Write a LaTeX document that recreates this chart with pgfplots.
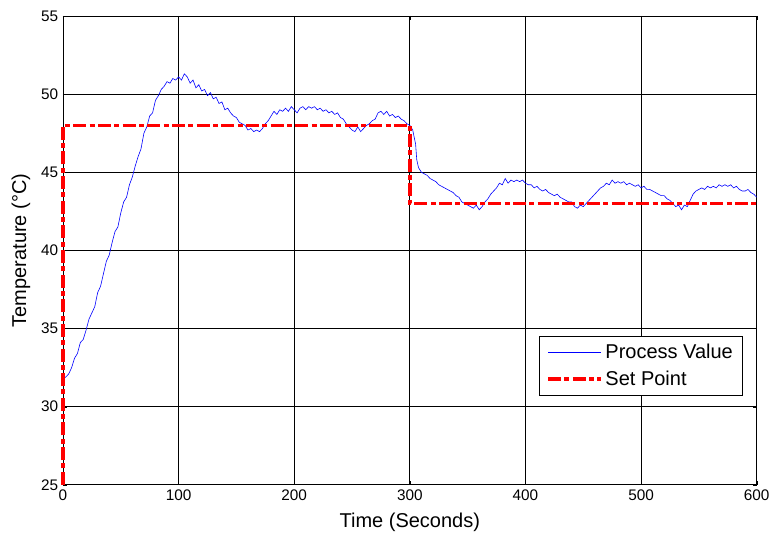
\documentclass[border=0pt]{standalone}
\usepackage{pgfplots}
\pgfplotsset{compat=1.18}
\usepackage{fontspec}
\setmainfont{Liberation Sans}

\begin{document}
\begin{tikzpicture}
\useasboundingbox (-47.25pt,-39.75pt) rectangle (532.75pt,363.75pt);
\begin{axis}[
    at={(0pt,0pt)}, anchor=south west,
    scale only axis,
    width=520.5pt,
    height=351.75pt,
    xmin=0, xmax=600,
    ymin=25, ymax=55,
    clip=false,
    xtick={0,100,...,600},
    ytick={25,30,...,55},
    grid=major,
    major grid style={black, line width=0.5pt},
    axis line style={black, line width=0.6pt},
    tick align=inside,
    major tick length=3pt,
    tick style={black},
    tick label style={font=\fontsize{11.5}{13}\selectfont},
    /pgf/number format/assume math mode=true,
    xlabel={Time (Seconds)},
    ylabel={Temperature (°C)},
    label style={font=\fontsize{15}{17}\selectfont},
    xlabel style={at={(axis description cs:0.5,0)}, anchor=center, yshift=-28pt},
    ylabel style={at={([xshift=-31.5pt]axis description cs:0,0.5)}, anchor=center},
    legend style={
        at={(rel axis cs:0.98,0.318)}, anchor=north east,
        draw=black, line width=0.5pt,
        font=\fontsize{15}{17}\selectfont,
        row sep=4.5pt, inner xsep=5pt, inner ysep=4.5pt,
        nodes={inner xsep=2.2pt, inner ysep=1.5pt},
    },
    legend cell align=left,
    legend image code/.code={\draw[#1] (0pt,0pt) -- (39.5pt,0pt);},
]
\addplot[blue, line width=0.45pt] coordinates {
(0,31.8) (2.5,31.9) (5,32.1) (7.5,32.5) (10,33.1) (12.5,33.4) (15,34.1) (17.5,34.3)
(20,34.9) (22.5,35.6) (25,36.0) (27.5,36.4) (30,37.3) (32.5,37.7) (35,38.5) (37.5,39.3)
(40,39.7) (42.5,40.5) (45,41.2) (47.5,41.5) (50,42.4) (52.5,43.1) (55,43.4) (57.5,44.2)
(60,44.7) (62.5,45.4) (65,46.0) (67.5,46.5) (70,47.5) (72.5,47.9) (75,48.6) (77.5,48.8)
(80,49.6) (82.5,49.9) (85,50.3) (87.5,50.5) (90,50.8) (92.5,50.7) (95,51.0) (97.5,50.9)
(100,51.1) (102.5,50.9) (105,51.3) (107.5,51.1) (110,50.7) (112.5,50.9) (115,50.4) (117.5,50.6)
(120,50.2) (122.5,50.3) (125,49.9) (127.5,50.1) (130,49.7) (132.5,49.8) (135,49.4) (137.5,49.5)
(140,49.0) (142.5,49.1) (145,48.8) (147.5,48.6) (150,48.5) (152.5,48.2) (155,48.1) (157.5,48.0)
(160,47.7) (162.5,47.8) (165,47.6) (167.5,47.7) (170,47.6) (172.5,47.8) (175,48.1) (177.5,48.3)
(180,48.6) (182.5,48.9) (185,48.7) (187.5,49.0) (190,48.9) (192.5,49.1) (195,48.9) (197.5,49.2)
(200,49.0) (202.5,48.8) (205,49.1) (207.5,49.2) (210,49.0) (212.5,49.2) (215,49.1) (217.5,49.2)
(220,49.0) (222.5,49.1) (225,48.9) (227.5,49.0) (230,48.8) (232.5,48.9) (235,48.7) (237.5,48.8)
(240,48.5) (242.5,48.4) (245,48.1) (247.5,47.9) (250,47.7) (252.5,47.6) (255,47.9) (257.5,47.6)
(260,47.8) (262.5,48.0) (265,48.1) (267.5,48.3) (270,48.4) (272.5,48.8) (275,48.9) (277.5,48.7)
(280,48.9) (282.5,48.6) (285,48.7) (287.5,48.5) (290,48.6) (292.5,48.4) (295,48.3) (297.5,48.1)
(300,48.0) (302.5,47.7) (305,46.8) (306,45.8) (307.5,45.3) (310,45.0) (312.5,44.9) (315,44.8)
(317.5,44.6) (320,44.5) (322.5,44.4) (325,44.2) (327.5,44.1) (330,44.0) (332.5,43.9) (335,43.8)
(337.5,43.7) (340,43.5) (342.5,43.4) (345,43.1) (347.5,43.0) (350,42.9) (352.5,42.8) (355,42.7)
(357.5,42.9) (360,42.6) (362.5,42.8) (365,43.1) (367.5,43.3) (370,43.6) (372.5,43.8) (375,44.0)
(377.5,44.3) (380,44.2) (382.5,44.6) (385,44.3) (387.5,44.5) (390,44.4) (392.5,44.5) (395,44.4)
(397.5,44.5) (400,44.3) (402.5,44.2) (405,44.2) (407.5,44.0) (410,44.1) (412.5,43.9) (415,43.8)
(417.5,43.9) (420,43.7) (422.5,43.6) (425,43.5) (427.5,43.6) (430,43.4) (432.5,43.3) (435,43.2)
(437.5,43.1) (440,43.1) (442.5,42.8) (445,42.7) (447.5,42.9) (450,42.8) (452.5,43.0) (455,43.2)
(457.5,43.4) (460,43.6) (462.5,43.8) (465,44.0) (467.5,44.1) (470,44.3) (472.5,44.2) (475,44.5)
(477.5,44.3) (480,44.4) (482.5,44.3) (485,44.4) (487.5,44.2) (490,44.3) (492.5,44.2) (495,44.1)
(497.5,44.2) (500,44.0) (502.5,44.1) (505,43.9) (507.5,43.9) (510,43.8) (512.5,43.7) (515,43.6)
(517.5,43.5) (520,43.5) (522.5,43.3) (525,43.2) (527.5,43.0) (530,42.8) (532.5,42.9) (535,42.6)
(537.5,42.9) (540,42.8) (542.5,43.2) (545,43.6) (547.5,43.8) (550,43.9) (552.5,44.0) (555,43.9)
(557.5,44.1) (560,44.0) (562.5,44.1) (565,44.0) (567.5,44.2) (570,44.1) (572.5,44.2) (575,44.1)
(577.5,44.2) (580,44.0) (582.5,44.1) (585,43.9) (587.5,43.8) (590,43.8) (592.5,43.9) (595,43.7)
(597.5,43.6) (600,43.4)
};
\addlegendentry{Process Value}
\addplot[red, line width=2.6pt, dash pattern=on 9.75pt off 2.5pt on 3.75pt off 2.5pt] coordinates {
(0,25) (0,48) (300,48) (300,43) (600,43)
};
\addlegendentry{Set Point}
\end{axis}
\end{tikzpicture}
\end{document}
